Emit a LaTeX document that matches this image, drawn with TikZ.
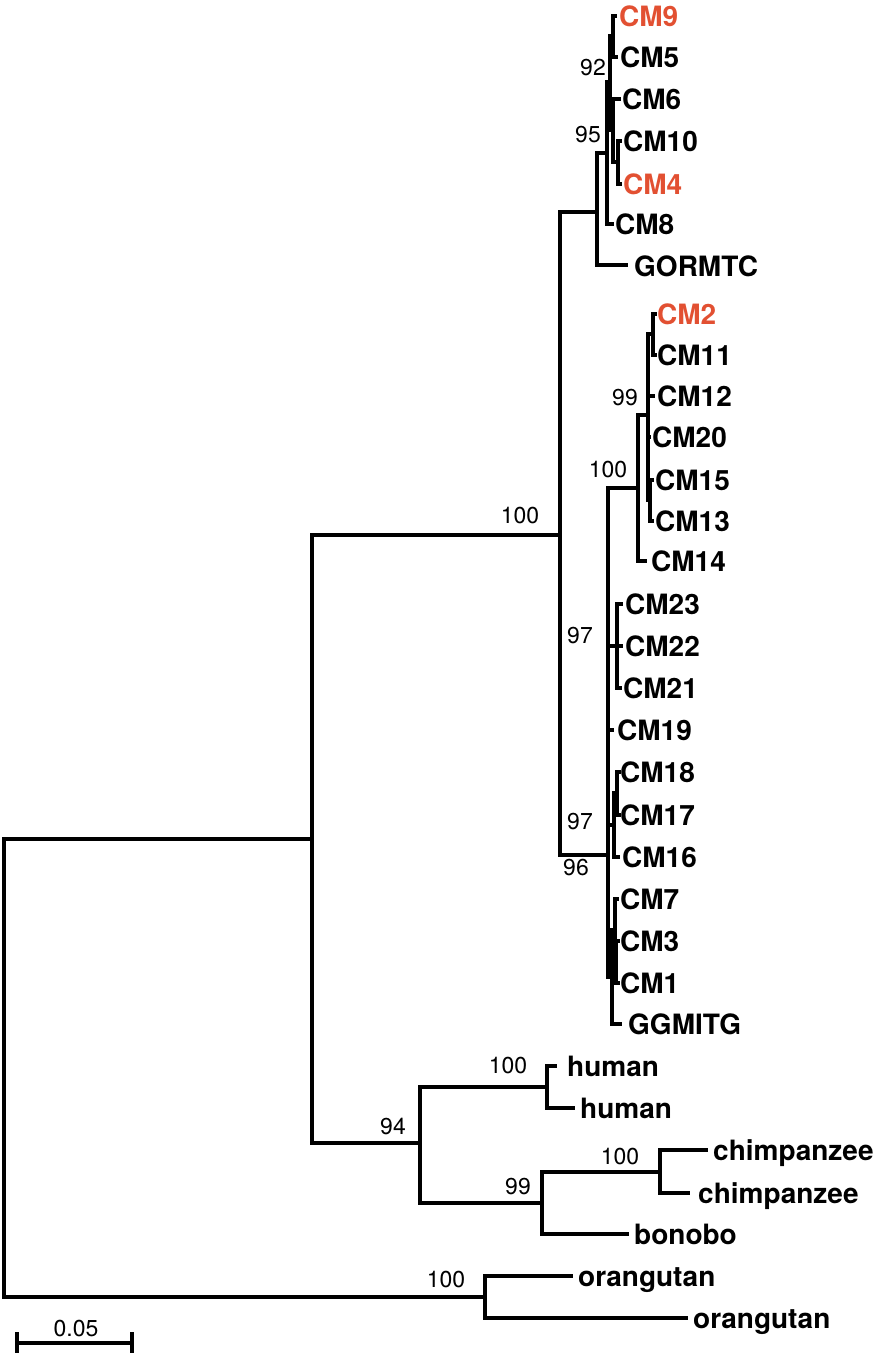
\documentclass[tikz,border=0pt]{standalone}
\usepackage{fontspec}
\setmainfont{TeX Gyre Heros}
\definecolor{cmred}{RGB}{226,80,50}
\begin{document}
\begin{tikzpicture}[x=1pt,y=-1pt,
  br/.style={line width=4pt,line cap=rect},
  leaf/.style={anchor=base west,inner sep=0pt,font=\fontsize{28}{30}\selectfont\bfseries},
  hl/.style={leaf,text=cmred},
  boot/.style={anchor=center,inner sep=0pt,font=\fontsize{23}{25}\selectfont}]
\useasboundingbox (0,0) rectangle (874,1353);
% internal nodes
\coordinate (root) at (4,1068);
\coordinate (n1) at (312,839);
\coordinate (no) at (485,1297);
\coordinate (n2) at (560,535);
\coordinate (n94) at (420,1143);
\coordinate (nh) at (547,1087);
\coordinate (n99b) at (542,1203);
\coordinate (nc) at (660,1172);
\coordinate (n3) at (597,212);
\coordinate (n95) at (607,153);
\coordinate (n92) at (610,82);
\coordinate (nA) at (613,36);
\coordinate (nB) at (613,130);
\coordinate (nC) at (618,162);
\coordinate (n96) at (608,855);
\coordinate (nX) at (608,733);
\coordinate (n100) at (638,488);
\coordinate (n99) at (648,415);
\coordinate (nD) at (653,334);
\coordinate (nE) at (650,500);
\coordinate (n97a) at (617,646);
\coordinate (n97b) at (614,825);
\coordinate (nF) at (617,793);
\coordinate (nW) at (612,977);
\coordinate (nG) at (615,930);
\coordinate (nH) at (616,962);
% tips
\coordinate (tcm9) at (615,16);
\coordinate (tcm5) at (616,57);
\coordinate (tcm6) at (619,99);
\coordinate (tcm10) at (620,141);
\coordinate (tcm4) at (620,184);
\coordinate (tcm8) at (612,224);
\coordinate (tgor) at (626,265);
\coordinate (tcm2) at (655,314);
\coordinate (tcm11) at (655,355);
\coordinate (tcm12) at (653,396);
\coordinate (tcm20) at (649,437);
\coordinate (tcm15) at (652,480);
\coordinate (tcm13) at (652,521);
\coordinate (tcm14) at (645,561);
\coordinate (tcm23) at (621,604);
\coordinate (tcm22) at (621,646);
\coordinate (tcm21) at (620,688);
\coordinate (tcm19) at (612,730);
\coordinate (tcm18) at (619,772);
\coordinate (tcm17) at (619,815);
\coordinate (tcm16) at (618,857);
\coordinate (tcm7) at (617,899);
\coordinate (tcm3) at (618,941);
\coordinate (tcm1) at (618,983);
\coordinate (tgg) at (620,1024);
\coordinate (th1) at (555,1066);
\coordinate (th2) at (573,1108);
\coordinate (tc1) at (706,1150);
\coordinate (tc2) at (688,1193);
\coordinate (tbon) at (627,1234);
\coordinate (to1) at (571,1276);
\coordinate (to2) at (686,1318);
% branches
\draw[br] (root) |- (n1);
\draw[br] (root) |- (no);
\draw[br] (no) |- (to1);
\draw[br] (no) |- (to2);
\draw[br] (n1) |- (n2);
\draw[br] (n1) |- (n94);
\draw[br] (n94) |- (nh);
\draw[br] (n94) |- (n99b);
\draw[br] (nh) |- (th1);
\draw[br] (nh) |- (th2);
\draw[br] (n99b) |- (nc);
\draw[br] (n99b) |- (tbon);
\draw[br] (nc) |- (tc1);
\draw[br] (nc) |- (tc2);
\draw[br] (n2) |- (n3);
\draw[br] (n2) |- (n96);
\draw[br] (n3) |- (n95);
\draw[br] (n3) |- (tgor);
\draw[br] (n95) |- (n92);
\draw[br] (n95) |- (tcm8);
\draw[br] (n92) |- (nA);
\draw[br] (n92) |- (nB);
\draw[br] (nA) |- (tcm9);
\draw[br] (nA) |- (tcm5);
\draw[br] (nB) |- (tcm6);
\draw[br] (nB) |- (nC);
\draw[br] (nC) |- (tcm10);
\draw[br] (nC) |- (tcm4);
\draw[br] (n96) |- (nX);
\draw[br] (n96) |- (nW);
\draw[br] (nX) |- (n100);
\draw[br] (nX) |- (n97a);
\draw[br] (nX) |- (tcm19);
\draw[br] (nX) |- (n97b);
\draw[br] (n100) |- (n99);
\draw[br] (n100) |- (tcm14);
\draw[br] (n99) |- (nD);
\draw[br] (n99) |- (tcm12);
\draw[br] (n99) |- (tcm20);
\draw[br] (n99) |- (nE);
\draw[br] (nD) |- (tcm2);
\draw[br] (nD) |- (tcm11);
\draw[br] (nE) |- (tcm15);
\draw[br] (nE) |- (tcm13);
\draw[br] (n97a) |- (tcm23);
\draw[br] (n97a) |- (tcm22);
\draw[br] (n97a) |- (tcm21);
\draw[br] (n97b) |- (nF);
\draw[br] (n97b) |- (tcm16);
\draw[br] (nF) |- (tcm18);
\draw[br] (nF) |- (tcm17);
\draw[br] (nW) |- (nG);
\draw[br] (nW) |- (tgg);
\draw[br] (nG) |- (tcm7);
\draw[br] (nG) |- (nH);
\draw[br] (nH) |- (tcm3);
\draw[br] (nH) |- (tcm1);
% leaf labels
\node[hl] (lcm9) at (619,26) {CM9};
\node[leaf] (lcm5) at (620,67) {CM5};
\node[leaf] (lcm6) at (622,109) {CM6};
\node[leaf] (lcm10) at (623,151) {CM10};
\node[hl] (lcm4) at (623,194) {CM4};
\node[leaf] (lcm8) at (615,234) {CM8};
\node[leaf] (lgor) at (634,276) {GORMTC};
\node[hl] (lcm2) at (657,324) {CM2};
\node[leaf] (lcm11) at (657,365) {CM11};
\node[leaf] (lcm12) at (657,406) {CM12};
\node[leaf] (lcm20) at (652,447) {CM20};
\node[leaf] (lcm15) at (655,490) {CM15};
\node[leaf] (lcm13) at (655,531) {CM13};
\node[leaf] (lcm14) at (651,571) {CM14};
\node[leaf] (lcm23) at (625,614) {CM23};
\node[leaf] (lcm22) at (625,656) {CM22};
\node[leaf] (lcm21) at (623,698) {CM21};
\node[leaf] (lcm19) at (617,740) {CM19};
\node[leaf] (lcm18) at (620,782) {CM18};
\node[leaf] (lcm17) at (620,825) {CM17};
\node[leaf] (lcm16) at (622,867) {CM16};
\node[leaf] (lcm7) at (620,909) {CM7};
\node[leaf] (lcm3) at (620,951) {CM3};
\node[leaf] (lcm1) at (620,993) {CM1};
\node[leaf] (lgg) at (628,1034) {GGMITG};
\node[leaf] (lh1) at (567,1076) {human};
\node[leaf] (lh2) at (580,1118) {human};
\node[leaf] (lc1) at (713,1160) {chimpanzee};
\node[leaf] (lc2) at (698,1203) {chimpanzee};
\node[leaf] (lbon) at (634,1244) {bonobo};
\node[leaf] (lo1) at (578,1286) {orangutan};
\node[leaf] (lo2) at (693,1328) {orangutan};
% bootstrap values
\node[boot] (b1) at (520,516) {100};
\node[boot] (b2) at (593,68) {92};
\node[boot] (b3) at (588,135) {95};
\node[boot] (b4) at (625,398) {99};
\node[boot] (b5) at (608,470) {100};
\node[boot] (b6) at (580,636) {97};
\node[boot] (b7) at (580,822) {97};
\node[boot] (b8) at (576,868) {96};
\node[boot] (b9) at (508,1066) {100};
\node[boot] (b10) at (518,1187) {99};
\node[boot] (b11) at (620,1157) {100};
\node[boot] (b12) at (393,1127) {94};
\node[boot] (b13) at (446,1280) {100};
% scale bar
\coordinate (sL) at (17,1343);
\coordinate (sR) at (132,1343);
\draw[line width=4pt] (sL) -- (sR);
\draw[line width=4pt] (17,1332) -- (17,1353);
\draw[line width=4pt] (132,1332) -- (132,1353);
\node[boot] (sb) at (76,1329) {0.05};
\end{tikzpicture}
\end{document}
